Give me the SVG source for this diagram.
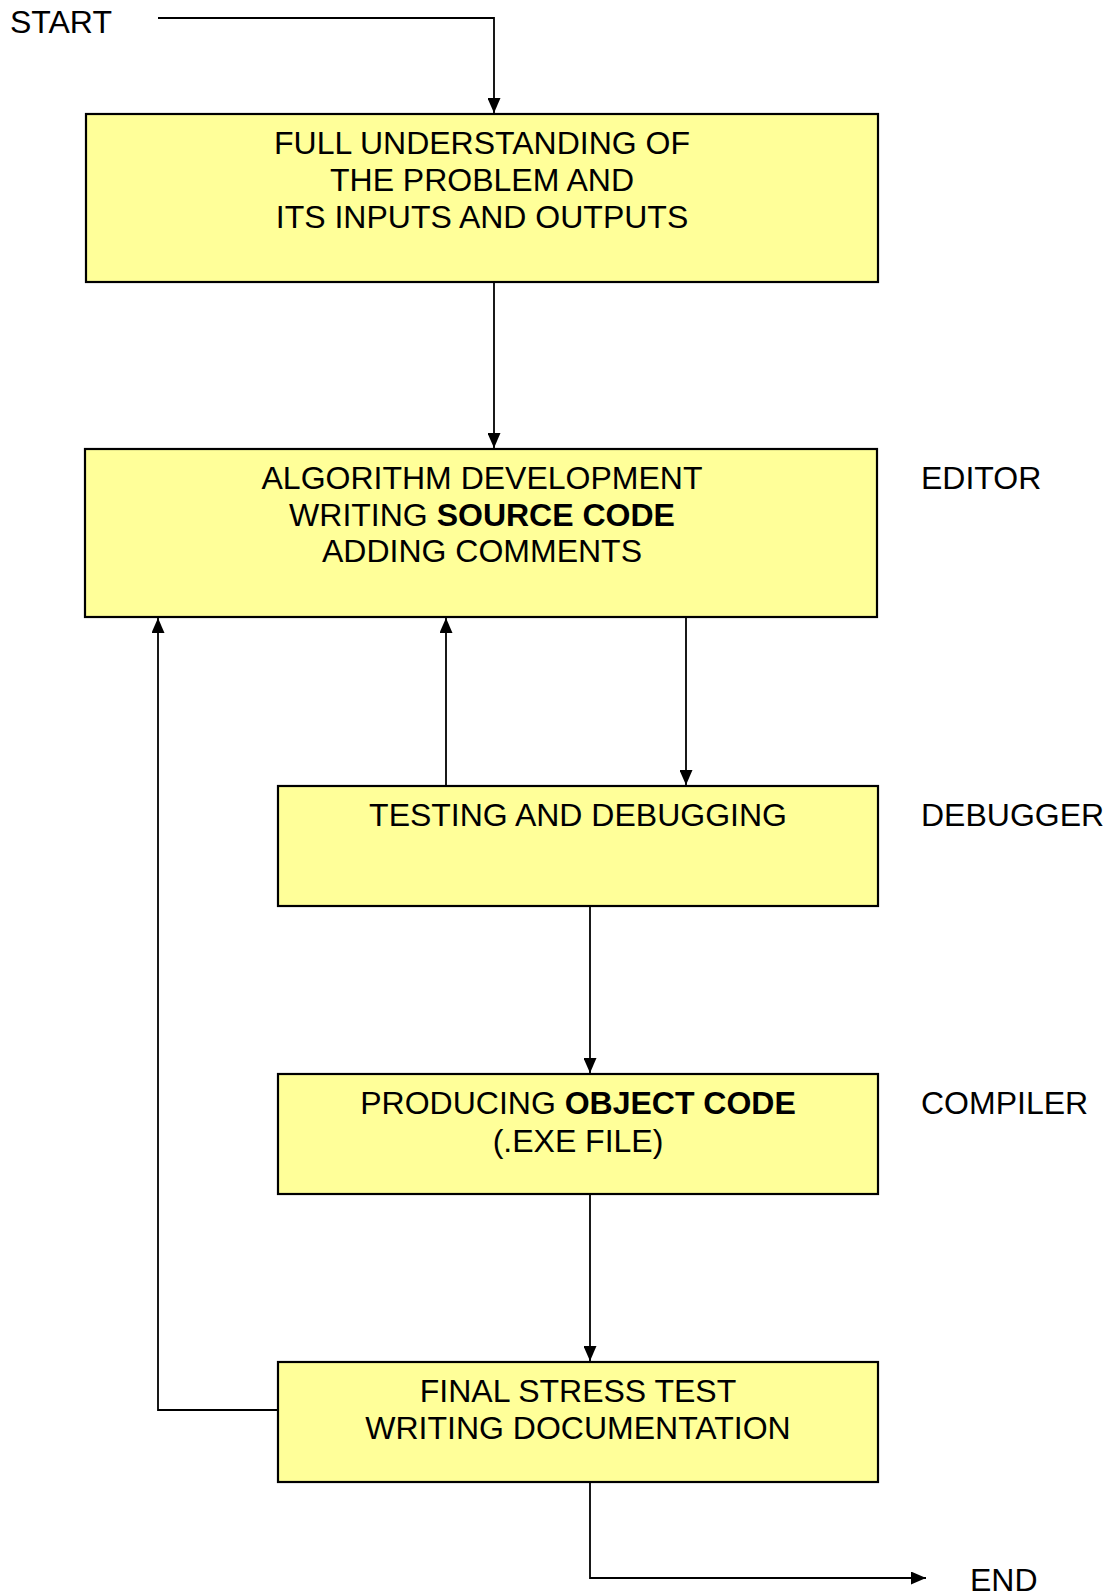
<svg xmlns="http://www.w3.org/2000/svg" width="1112" height="1596" viewBox="0 0 1112 1596">
  <style>
    .box { fill: #FFFF99; stroke: #000; stroke-width: 2.2; }
    .lbl { font-family: "Liberation Sans", Arial, sans-serif; font-size: 32px; fill: #000; }
    .mid { text-anchor: middle; }
    .b { font-weight: bold; }
    .wire { fill: none; stroke: #000; stroke-width: 1.8; }
  </style>
  <defs>
    <marker id="arrow" markerWidth="15" markerHeight="13" refX="15" refY="6.5" orient="auto" markerUnits="userSpaceOnUse" viewBox="0 0 15 13">
      <path d="M0,0 L15,6.5 L0,13 Z" fill="#000"/>
    </marker>
  </defs>

  <rect width="1112" height="1596" fill="#fff"/>

  <!-- terminal labels -->
  <g id="start"><text class="lbl" x="10" y="33">START</text></g>
  <g id="end"><text class="lbl" x="970" y="1591">END</text></g>

  <!-- tool labels beside the boxes -->
  <g id="editor"><text class="lbl" x="921" y="489">EDITOR</text></g>
  <g id="debugger"><text class="lbl" x="921" y="826">DEBUGGER</text></g>
  <g id="compiler"><text class="lbl" x="921" y="1114">COMPILER</text></g>

  <!-- process boxes -->
  <g id="understanding">
    <rect class="box" x="86" y="114" width="792" height="168"/>
    <text class="lbl mid" x="482" y="154">FULL UNDERSTANDING OF</text>
    <text class="lbl mid" x="482" y="191">THE PROBLEM AND</text>
    <text class="lbl mid" x="482" y="228">ITS INPUTS AND OUTPUTS</text>
  </g>

  <g id="algorithm">
    <rect class="box" x="85" y="449" width="792" height="168"/>
    <text class="lbl mid" x="482" y="489">ALGORITHM DEVELOPMENT</text>
    <text class="lbl mid" x="482" y="526">WRITING <tspan class="b">SOURCE CODE</tspan></text>
    <text class="lbl mid" x="482" y="562">ADDING COMMENTS</text>
  </g>

  <g id="testing">
    <rect class="box" x="278" y="786" width="600" height="120"/>
    <text class="lbl mid" x="578" y="826">TESTING AND DEBUGGING</text>
  </g>

  <g id="object-code">
    <rect class="box" x="278" y="1074" width="600" height="120"/>
    <text class="lbl mid" x="578" y="1114">PRODUCING <tspan class="b">OBJECT CODE</tspan></text>
    <text class="lbl mid" x="578" y="1152">(.EXE FILE)</text>
  </g>

  <g id="final-test">
    <rect class="box" x="278" y="1362" width="600" height="120"/>
    <text class="lbl mid" x="578" y="1402">FINAL STRESS TEST</text>
    <text class="lbl mid" x="578" y="1439">WRITING DOCUMENTATION</text>
  </g>

  <!-- connectors -->
  <g id="connectors">
    <polyline class="wire" points="158,18 494,18 494,113" marker-end="url(#arrow)"/>
    <line class="wire" x1="494" y1="282" x2="494" y2="448" marker-end="url(#arrow)"/>
    <line class="wire" x1="686" y1="617" x2="686" y2="785" marker-end="url(#arrow)"/>
    <line class="wire" x1="446" y1="786" x2="446" y2="618" marker-end="url(#arrow)"/>
    <line class="wire" x1="590" y1="906" x2="590" y2="1073" marker-end="url(#arrow)"/>
    <line class="wire" x1="590" y1="1194" x2="590" y2="1361" marker-end="url(#arrow)"/>
    <polyline class="wire" points="278,1410 158,1410 158,618" marker-end="url(#arrow)"/>
    <polyline class="wire" points="590,1482 590,1578 926,1578" marker-end="url(#arrow)"/>
  </g>
</svg>
